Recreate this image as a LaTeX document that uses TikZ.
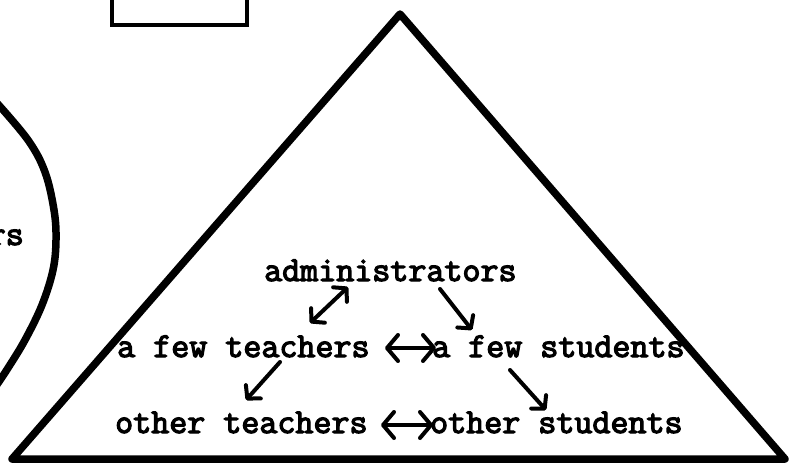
\documentclass[tikz,border=0pt]{standalone}
\usepackage{fontspec}
\newfontfamily\twfont{Latin Modern Mono}[FakeBold=3.5]
\usetikzlibrary{arrows.meta,calc}
\tikzset{
  lbl/.style={font=\fontsize{35}{41}\selectfont\twfont, anchor=base west, inner sep=0pt},
  thickline/.style={line width=7.5pt, line join=round, line cap=round},
  conn/.style={line width=4pt, line cap=round, line join=round,
    arrows={Straight Barb[length=9pt,width=20pt,line cap=round,line join=round]-Straight Barb[length=9pt,width=20pt,line cap=round,line join=round]}},
  oneway/.style={line width=4pt, line cap=round, line join=round,
    -{Straight Barb[length=9pt,width=20pt,line cap=round,line join=round]}},
  twoway/.style={line width=4pt, line cap=round, line join=round,
    {Straight Barb[length=11pt,width=26pt,line cap=round,line join=round]}-{Straight Barb[length=11pt,width=26pt,line cap=round,line join=round]}}
}
\begin{document}
\begin{tikzpicture}[x=1pt,y=-1pt]
\useasboundingbox (0,0) rectangle (789,463);
% partial box at the top
\draw[line width=3.5pt] (112,-10) -- (112,25) -- (247,25) -- (247,-10);
% partial curve on the left
\draw[thickline] plot[smooth, tension=0.6] coordinates {(-4,102) (28,140) (45,172) (54,210) (56,240) (53,270) (42,305) (25,340) (8,368) (-4,386)};
\node[lbl, anchor=base east] (rs) at (24,245) {rs};
% triangle
\draw[thickline] (400,14) -- (785,459) -- (12,459) -- cycle;
% labels
\node[lbl] (adm) at (264,281) {administrators};
\node[lbl] (aft) at (117,357) {a few teachers};
\node[lbl] (afs) at (432,357) {a few students};
\node[lbl] (ot) at (115,433) {other teachers};
\node[lbl] (os) at (430,433) {other students};
% connectors
\draw[conn] ($(aft.base west)+(193,-34)$) -- ($(adm.base west)+(84,6)$);
\draw[oneway] ($(adm.base west)+(176,8)$) -- ($(afs.base west)+(40,-27)$);
\draw[oneway] ($(aft.base west)+(163,5)$) -- ($(ot.base west)+(131,-33)$);
\draw[oneway] ($(afs.base west)+(78,13)$) -- ($(os.base west)+(116,-23)$);
\draw[twoway] ($(aft.base west)+(268,-9)$) -- ($(afs.base west)+(4,-9)$);
\draw[twoway] ($(ot.base west)+(266,-8)$) -- ($(os.base west)+(3,-8)$);
\end{tikzpicture}
\end{document}
